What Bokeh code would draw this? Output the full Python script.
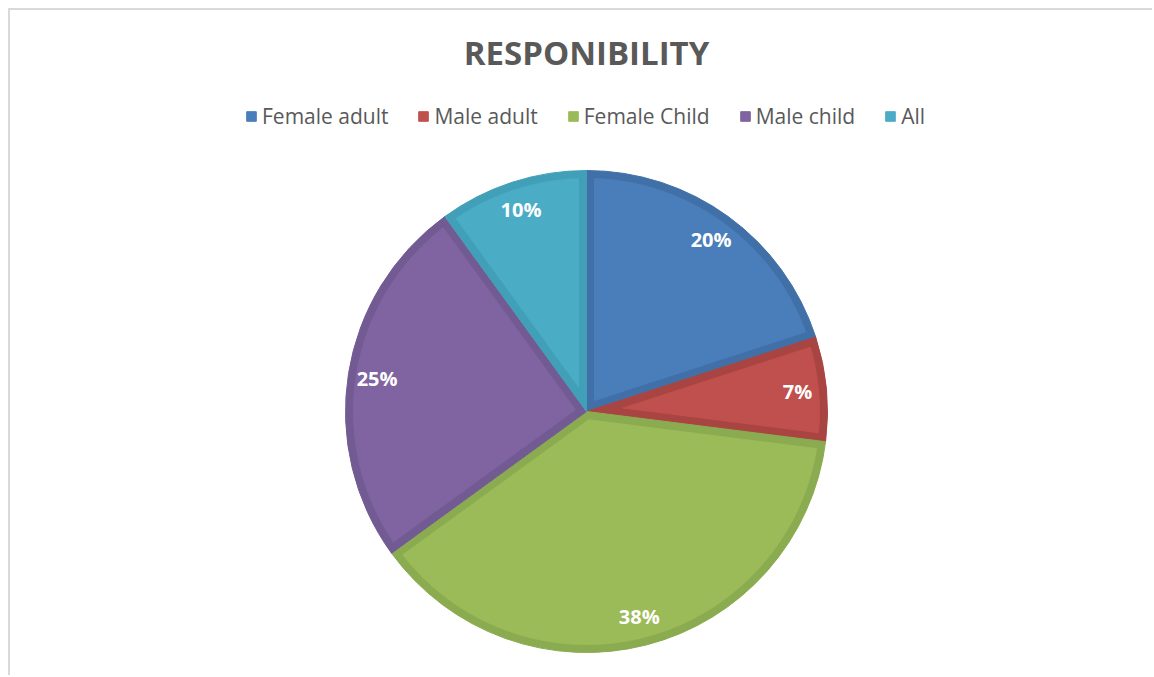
import numpy as np
from bokeh.plotting import figure
from bokeh.models import ColumnDataSource, Legend, LegendItem, Label, Range1d
from bokeh.embed import file_html
from bokeh.resources import INLINE
from bokeh.core.properties import value

title_text = "RESPONIBILITY"
categories = ["Female adult", "Male adult", "Female Child", "Male child", "All"]
percent = [20, 7, 38, 25, 10]
fill_colors = ["#4a7ebb", "#c0504d", "#9bbb59", "#8064a2", "#4bacc6"]
edge_colors = ["#4170a8", "#a84441", "#8aab4f", "#725a93", "#41a0b8"]

FONT = "Open Sans"
W, H = 1144, 667
BOTTOM = 24
FH = H - BOTTOM
cx, cy = 576, 242
R = 241
d = 8
LR = 212

vals = np.array(percent, dtype=float)
frac = vals / vals.sum()
cum = np.cumsum(frac)
start = np.pi / 2 - 2 * np.pi * np.concatenate([[0.0], cum[:-1]])
end = np.pi / 2 - 2 * np.pi * cum
mid = (start + end) / 2

# inner (lighter) area of each slice, inset by d from every edge
xs, ys = [], []
rho = R - d
for a1, a0 in zip(start, end):
    h = (a1 - a0) / 2
    m = (a1 + a0) / 2
    off = d / np.sin(h)
    da = np.arcsin(d / rho)
    t = np.linspace(a0 + da, a1 - da, 120)
    px = [cx + off * np.cos(m)] + list(cx + rho * np.cos(t))
    py = [cy + off * np.sin(m)] + list(cy + rho * np.sin(t))
    xs.append(px)
    ys.append(py)

src = ColumnDataSource(dict(
    cat=categories, start=start, end=end, fill=fill_colors, edge=edge_colors,
    xs=xs, ys=ys,
    lx=cx + LR * np.cos(mid), ly=cy + LR * np.sin(mid),
    lbl=[f"{v}%" for v in percent],
))

p = figure(width=W, height=H, output_backend="svg", toolbar_location=None,
           x_range=Range1d(0, W), y_range=Range1d(0, FH),
           x_axis_type=None, y_axis_type=None,
           min_border_left=0, min_border_right=0, min_border_top=0,
           min_border_bottom=BOTTOM)
p.grid.visible = False
p.outline_line_color = None
p.background_fill_color = "white"
p.border_fill_color = "white"
p.styles = {"margin-left": "8px", "margin-top": "8px",
            "border-top": "2px solid #d9d9d9", "border-left": "2px solid #d9d9d9"}

p.wedge(x=cx, y=cy, radius=R, start_angle="start", end_angle="end",
        direction="clock", fill_color="edge", line_color="edge", line_width=1,
        source=src)
pr = p.patches(xs="xs", ys="ys", fill_color="fill", line_color="fill",
               line_width=1, source=src)

p.text(x="lx", y="ly", text="lbl", text_font=value(FONT), text_font_style="bold",
       text_font_size="20px", text_color="white", text_align="center",
       text_baseline="middle", source=src)

p.add_layout(Label(x=576, y=601, text=title_text, text_align="center",
                   text_baseline="alphabetic", text_font=FONT,
                   text_font_size="33px", text_font_style="bold",
                   text_color="#595959"))

legend = Legend(items=[LegendItem(label=c, renderers=[pr], index=i)
                       for i, c in enumerate(categories)],
                orientation="horizontal", location=(235, 523),
                label_text_font=FONT, label_text_font_size="21px",
                label_text_color="#595959", glyph_width=12, glyph_height=12,
                label_standoff=5, spacing=29, padding=0, margin=0,
                border_line_color=None, background_fill_alpha=0)
p.add_layout(legend)

open("out.html", "w").write(file_html(p, INLINE))
